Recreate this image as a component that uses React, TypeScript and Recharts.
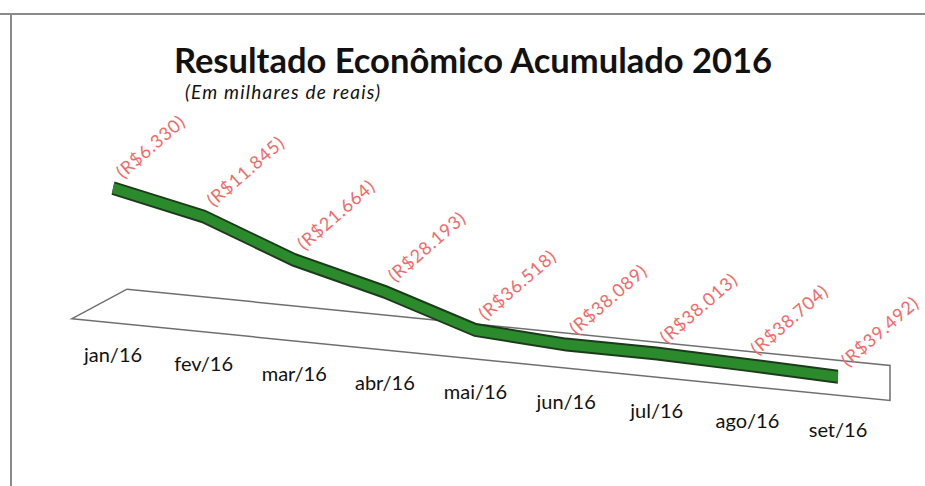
import React from 'react';
import { LineChart, Line, XAxis, YAxis, ReferenceArea } from 'recharts';

const months = ['jan/16', 'fev/16', 'mar/16', 'abr/16', 'mai/16', 'jun/16', 'jul/16', 'ago/16', 'set/16'];
const resultado = [-6330, -11845, -21664, -28193, -36518, -38089, -38013, -38704, -39492];

const data = months.map((m, i) => ({ mes: m, valor: resultado[i] }));

// fake 3D: whole plot is skewed, text gets counter-skewed
const SKEW = 5.71;
const FONT = 'Lato, "Open Sans", sans-serif';
const PAD_L = 41;
const PAD_R = 52;

const fmt = (v: number) => `(R$${Math.abs(v).toLocaleString('de-DE')})`;

const MonthTick = (props: any) => {
  const { x, y, payload, index } = props;
  return (
    <g transform={`translate(${x},${y}) skewY(${-SKEW})`}>
      <text
        textAnchor="middle"
        dy={20 + index * 0.3}
        fontFamily={FONT}
        fontSize={20}
        fill="#111"
      >
        {payload.value}
      </text>
    </g>
  );
};

const ValueLabel = (props: any) => {
  const { x, y, value } = props;
  if (x == null || y == null) return null;
  return (
    <g transform={`translate(${x + 10},${y - 10}) skewY(${-SKEW}) rotate(-41)`}>
      <text fontFamily={FONT} fontSize={18} letterSpacing={0.8} fill="#f26a6a">
        {fmt(value)}
      </text>
    </g>
  );
};

// floor of the 3D plot: stretched over the axis padding, left end cut at an angle
const Floor = (props: any) => {
  const { x, y, width, height } = props;
  const l = x - PAD_L;
  const r = x + width + PAD_R;
  const pts = `${l + 55},${y} ${r},${y} ${r},${y + height} ${l},${y + height}`;
  return <polygon points={pts} fill="#fff" stroke="#6f6f6f" strokeWidth={1.5} />;
};

export default function App() {
  return (
    <div style={{ position: 'absolute', left: 0, top: 0, width: 925, height: 486, background: '#fff', overflow: 'hidden' }}>
      {/* frame */}
      <div style={{ position: 'absolute', left: 0, top: 13, width: 925, height: 2, background: '#8a8a8a' }} />
      <div style={{ position: 'absolute', left: 10, top: 13, width: 2, height: 473, background: '#8a8a8a' }} />
      <div
        style={{
          position: 'absolute',
          left: 0,
          width: 946,
          top: 39,
          textAlign: 'center',
          fontFamily: FONT,
          fontWeight: 700,
          fontSize: 34.5,
          color: '#111',
        }}
      >
        Resultado Econômico Acumulado 2016
      </div>
      <div
        style={{
          position: 'absolute',
          left: 185,
          top: 80,
          fontFamily: FONT,
          fontStyle: 'italic',
          fontSize: 19,
          letterSpacing: 1.2,
          color: '#111',
        }}
      >
        (Em milhares de reais)
      </div>
      <div
        style={{
          position: 'absolute',
          left: 0,
          top: 0,
          transform: `skewY(${SKEW}deg)`,
          transformOrigin: '113px 0px',
        }}
      >
        <LineChart
          width={925}
          height={486}
          data={data}
          margin={{ top: 166, right: 35, bottom: 122, left: 72 }}
        >
          <XAxis
            dataKey="mes"
            height={30}
            axisLine={false}
            tickLine={false}
            interval={0}
            padding={{ left: PAD_L, right: PAD_R }}
            tick={<MonthTick />}
          />
          <YAxis hide domain={[-48000, 0]} />
          <ReferenceArea
            y1={-44800}
            y2={-34800}
            ifOverflow="visible"
            shape={<Floor />}
          />
          <Line
            type="linear"
            dataKey="valor"
            stroke="#1c3a1c"
            strokeWidth={14}
            dot={false}
            isAnimationActive={false}
          />
          <Line
            type="linear"
            dataKey="valor"
            stroke="#2b8a2b"
            strokeWidth={10}
            dot={false}
            isAnimationActive={false}
            label={<ValueLabel />}
          />
        </LineChart>
      </div>
    </div>
  );
}
